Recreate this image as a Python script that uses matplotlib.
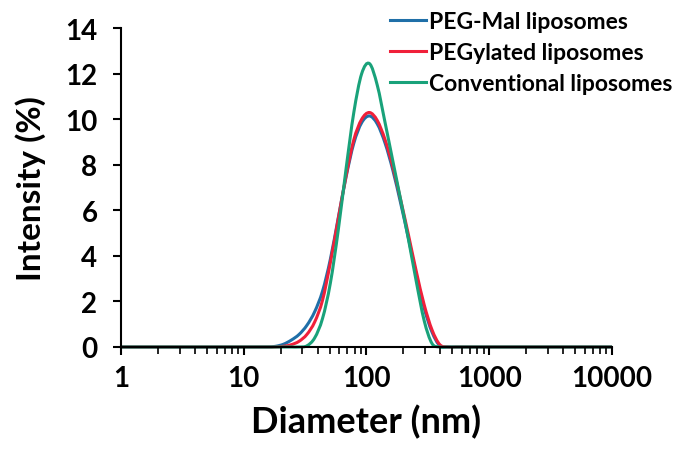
import matplotlib
matplotlib.use('Agg')
import matplotlib.pyplot as plt
import numpy as np
from matplotlib.path import Path
from matplotlib.patches import PathPatch
from matplotlib.lines import Line2D
from matplotlib.ticker import LogLocator, FixedLocator, NullFormatter

# size bins (nm)
diameter = [1.0, 15.69, 18.17, 21.04, 24.36, 28.21, 32.67, 37.84, 43.82, 50.75,
            58.77, 68.06, 78.82, 91.28, 105.7, 122.4, 141.8, 164.2, 190.1, 220.2,
            255.0, 295.3, 342.0, 396.1, 458.7, 531.2, 10000.0]

peg_mal = [0, 0, 0.03, 0.12, 0.3, 0.55, 0.95, 1.55, 2.45, 3.85,
           5.65, 7.45, 8.95, 9.85, 10.15, 9.8, 8.95, 7.75, 6.3, 4.75,
           3.15, 1.7, 0.65, 0.05, 0, 0, 0]

pegylated = [0, 0, 0, 0.03, 0.1, 0.25, 0.55, 1.1, 2.05, 3.7,
             5.6, 7.5, 9.1, 10.0, 10.3, 9.95, 9.1, 7.9, 6.45, 4.9,
             3.3, 1.85, 0.75, 0.1, 0, 0, 0]

conventional = [0, 0, 0, 0, 0, 0, 0.05, 0.4, 1.25, 2.8,
                5.1, 7.8, 10.3, 12.0, 12.45, 11.5, 9.85, 8.15, 6.45, 4.7,
                2.85, 1.15, 0.15, 0, 0, 0, 0]

labels = ['PEG-Mal liposomes', 'PEGylated liposomes', 'Conventional liposomes']
colors = ['#1F6FA8', '#F0203A', '#19A27A']


def smooth_path(x, y):
    # Excel-style smoothed line: cubic Hermite segments in log10(x) space
    lx = np.log10(x)
    y = np.asarray(y, dtype=float)
    n = len(lx)
    slopes = np.zeros(n)
    for i in range(1, n - 1):
        slopes[i] = (y[i + 1] - y[i - 1]) / (lx[i + 1] - lx[i - 1])
    verts = [(x[0], y[0])]
    codes = [Path.MOVETO]
    for i in range(n - 1):
        h = (lx[i + 1] - lx[i]) / 3
        c1 = (10 ** (lx[i] + h), y[i] + slopes[i] * h)
        c2 = (10 ** (lx[i + 1] - h), y[i + 1] - slopes[i + 1] * h)
        verts += [c1, c2, (x[i + 1], y[i + 1])]
        codes += [Path.CURVE4] * 3
    return Path(verts, codes)


plt.rcParams['font.family'] = ['Lato', 'DejaVu Sans']
plt.rcParams['font.weight'] = 'bold'

fig = plt.figure(figsize=(6.79, 4.52), dpi=100)
ax = fig.add_axes([0.1782, 0.2301, 0.7231, 0.7051])

ax.set_xscale('log')
ax.set_xlim(1, 10000)
ax.set_ylim(0, 14)

handles = []
for series, label, color in zip([peg_mal, pegylated, conventional], labels, colors):
    patch = PathPatch(smooth_path(diameter, series), facecolor='none', edgecolor=color,
                      linewidth=2.2, transform=ax.transData, clip_on=False)
    ax.add_patch(patch)
    handles.append(Line2D([], [], color=color, linewidth=2.2, label=label))

ax.set_yticks(range(0, 15, 2))
ax.xaxis.set_major_locator(FixedLocator([1, 10, 100, 1000, 10000]))
ax.xaxis.set_minor_locator(LogLocator(base=10, subs=range(2, 10)))
ax.xaxis.set_minor_formatter(NullFormatter())
ax.set_xticklabels(['1', '10', '100', '1000', '10000'])

for side in ['top', 'right']:
    ax.spines[side].set_visible(False)
for side in ['left', 'bottom']:
    ax.spines[side].set_linewidth(1.5)

ax.tick_params(axis='both', which='major', direction='out', length=6, width=1.5,
               labelsize=20)
ax.tick_params(axis='y', which='major', pad=11)
ax.tick_params(axis='x', which='major', pad=7)
ax.tick_params(axis='x', which='minor', direction='out', length=5, width=1.2)

ax.set_xlabel('Diameter (nm)', fontsize=26, fontweight='bold', labelpad=9)
ax.set_ylabel('Intensity (%)', fontsize=24, fontweight='bold', labelpad=14)

ax.legend(handles=handles, loc='upper left', bbox_to_anchor=(0.505, 1.12), frameon=False,
          fontsize=16.5, handlelength=1.6, handletextpad=0.1, labelspacing=0.45)

fig.savefig('out.png', dpi=100)
